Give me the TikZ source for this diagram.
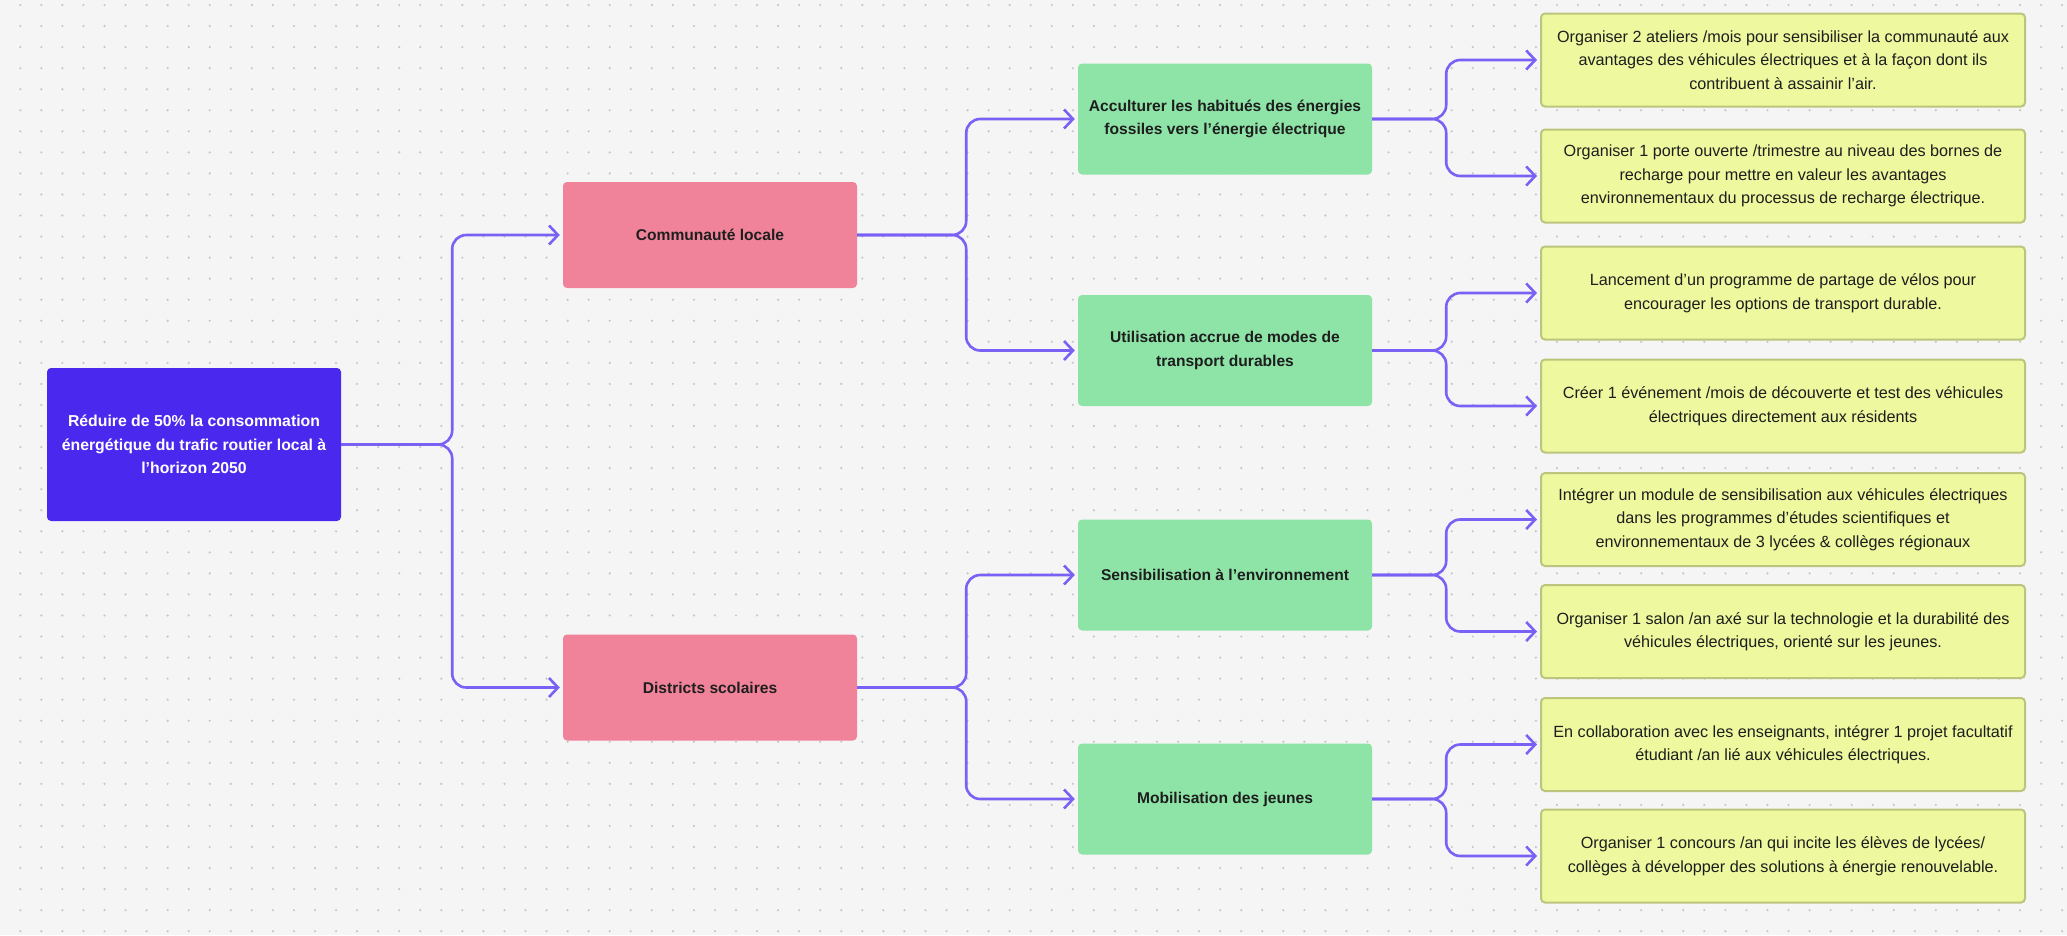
\documentclass[tikz,border=0pt]{standalone}
\usepackage{fontspec}
\setmainfont{Liberation Sans}
\usetikzlibrary{arrows.meta}
\definecolor{bgc}{HTML}{F5F5F5}
\definecolor{dotc}{HTML}{C6C6C6}
\definecolor{goalc}{HTML}{4A28EE}
\definecolor{pinkc}{HTML}{F08399}
\definecolor{greenc}{HTML}{8EE4A7}
\definecolor{yellowc}{HTML}{EEF89E}
\definecolor{yellowb}{HTML}{BCC57C}
\definecolor{linkc}{HTML}{7A60F4}
\definecolor{txtc}{HTML}{1E1E1E}
\tikzset{
  box/.style={rounded corners=4pt, inner sep=0pt, align=center, text=txtc,
    font=\fontsize{16.2}{23.5}\selectfont},
  goalbox/.style={box, fill=goalc, text=white, minimum width=294pt, minimum height=153pt,
    font=\fontsize{15.8}{23.3}\selectfont\bfseries},
  groupbox/.style={box, fill=pinkc, minimum width=294pt, minimum height=106pt,
    font=\fontsize{15.6}{23.3}\selectfont\bfseries},
  aimbox/.style={box, fill=greenc, minimum width=294pt, minimum height=111pt,
    font=\fontsize{15.6}{23.3}\selectfont\bfseries},
  actbox/.style={box, fill=yellowc, draw=yellowb, line width=2pt, minimum width=484pt, minimum height=93pt},
  link/.style={draw=linkc, line width=2.6pt, rounded corners=14pt, shorten >=3pt,
    -{Straight Barb[length=9pt,width=19pt]}}
}
\begin{document}
\begin{tikzpicture}[x=1pt,y=-1pt]
\useasboundingbox (0,0) rectangle (2067,935);
\fill[bgc] (0,0) rectangle (2067,935);
\foreach \i in {0,...,98}
  \foreach \j in {0,...,44}
    \fill[dotc] (20.3+21.05*\i,5+21.05*\j) circle (1.2);

\node(goal) at (194,444.5) [goalbox] {Réduire de 50\% la consommation\\énergétique du trafic routier local à\\l’horizon 2050};

\node(com) at (710,235) [groupbox] {Communauté locale};
\node(dist) at (710,687.5) [groupbox] {Districts scolaires};

\node(acc) at (1225,119) [aimbox] {Acculturer les habitués des énergies\\fossiles vers l’énergie électrique};
\node(util) at (1225,350.5) [aimbox] {Utilisation accrue de modes de\\transport durables};
\node(sens) at (1225,575) [aimbox] {Sensibilisation à l’environnement};
\node(mob) at (1225,799) [aimbox] {Mobilisation des jeunes};

\node(act1) at (1783,60) [actbox] {Organiser 2 ateliers /mois pour sensibiliser la communauté aux\\avantages des véhicules électriques et à la façon dont ils\\contribuent à assainir l’air.};
\node(act2) at (1783,176) [actbox] {Organiser 1 porte ouverte /trimestre au niveau des bornes de\\recharge pour mettre en valeur les avantages\\environnementaux du processus de recharge électrique.};
\node(act3) at (1783,293) [actbox] {Lancement d’un programme de partage de vélos pour\\encourager les options de transport durable.};
\node(act4) at (1783,406) [actbox] {Créer 1 événement /mois de découverte et test des véhicules\\électriques directement aux résidents};
\node(act5) at (1783,519.5) [actbox] {Intégrer un module de sensibilisation aux véhicules électriques\\dans les programmes d’études scientifiques et\\environnementaux de 3 lycées \& collèges régionaux};
\node(act6) at (1783,631.5) [actbox] {Organiser 1 salon /an axé sur la technologie et la durabilité des\\véhicules électriques, orienté sur les jeunes.};
\node(act7) at (1783,744.5) [actbox] {En collaboration avec les enseignants, intégrer 1 projet facultatif\\étudiant /an lié aux véhicules électriques.};
\node(act8) at (1783,856) [actbox] {Organiser 1 concours /an qui incite les élèves de lycées/\\collèges à développer des solutions à énergie renouvelable.};

\draw[link] (goal.east) -- ++(111,0) |- (com.west);
\draw[link] (goal.east) -- ++(111,0) |- (dist.west);
\draw[link] (com.east) -- ++(109,0) |- (acc.west);
\draw[link] (com.east) -- ++(109,0) |- (util.west);
\draw[link] (dist.east) -- ++(109,0) |- (sens.west);
\draw[link] (dist.east) -- ++(109,0) |- (mob.west);
\draw[link] (acc.east) -- ++(74,0) |- (act1.west);
\draw[link] (acc.east) -- ++(74,0) |- (act2.west);
\draw[link] (util.east) -- ++(74,0) |- (act3.west);
\draw[link] (util.east) -- ++(74,0) |- (act4.west);
\draw[link] (sens.east) -- ++(74,0) |- (act5.west);
\draw[link] (sens.east) -- ++(74,0) |- (act6.west);
\draw[link] (mob.east) -- ++(74,0) |- (act7.west);
\draw[link] (mob.east) -- ++(74,0) |- (act8.west);
\end{tikzpicture}
\end{document}
